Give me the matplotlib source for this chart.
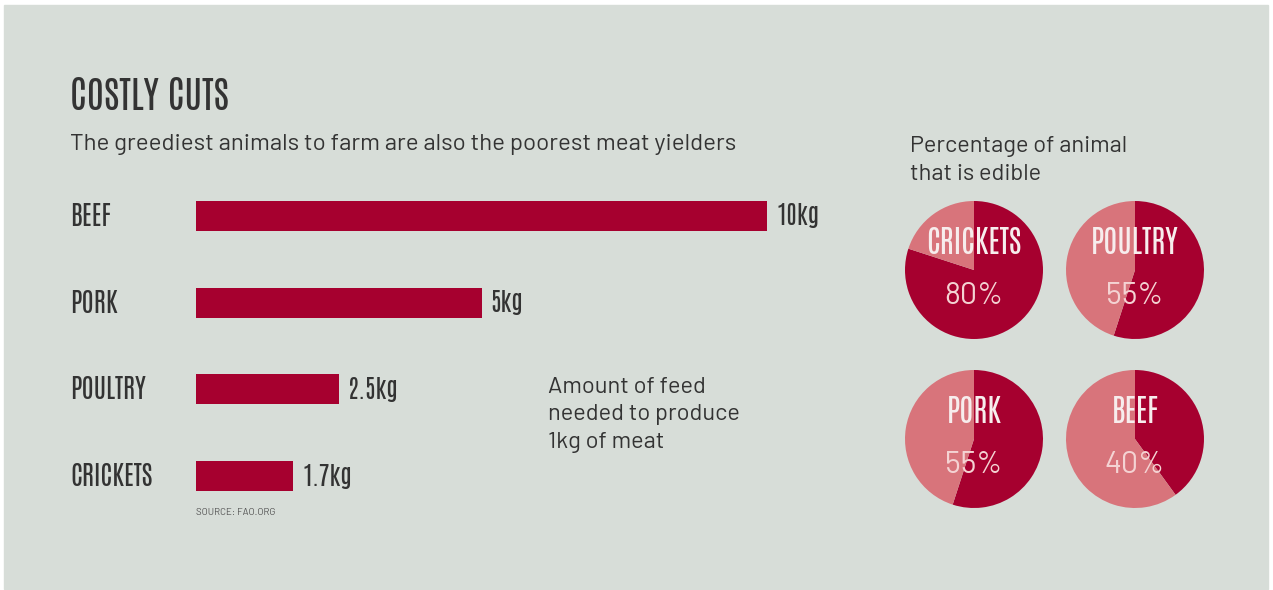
import matplotlib
matplotlib.use("Agg")
import matplotlib.pyplot as plt
from matplotlib.patches import Rectangle

# ---- data ----
animals = ["BEEF", "PORK", "POULTRY", "CRICKETS"]
feed_kg = [10, 5, 2.5, 1.7]
feed_labels = ["10kg", "5kg", "2.5kg", "1.7kg"]
pie_animals = ["CRICKETS", "POULTRY", "PORK", "BEEF"]
edible_pct = [80, 55, 55, 40]

BG, DARK, LIGHT, INK = "#d7ddd8", "#a6002f", "#d8747b", "#333333"
TALL = ["Antonio", "Big Shoulders Text", "DejaVu Sans"]
DIN = ["Barlow", "DejaVu Sans"]
W, H = 1273, 590

fig = plt.figure(figsize=(W / 100, H / 100), dpi=100, facecolor="white")
bg = fig.add_axes([0, 0, 1, 1])
bg.set_xlim(0, W); bg.set_ylim(H, 0); bg.axis("off")
bg.add_patch(Rectangle((4, 5), 1264, 584, color=BG, zorder=0))

def px(x, y, w, h):
    return [x / W, 1 - (y + h) / H, w / W, h / H]

# titles (multi-line blocks: baseline = last line)
bg.text(70, 110, "COSTLY CUTS", family=TALL, fontsize=27, color=INK, va="baseline")
bg.text(70, 150, "The greediest animals to farm are also the poorest meat yielders",
        family=DIN, fontsize=17.3, color=INK, va="baseline")
bg.text(910, 180, "Percentage of animal\nthat is edible", family=DIN, fontsize=17,
        color=INK, va="baseline", linespacing=1.42)
bg.text(548, 448, "Amount of feed\nneeded to produce\n1kg of meat", family=DIN,
        fontsize=17, color=INK, va="baseline", linespacing=1.42)

# ---- bars ----
ax = fig.add_axes(px(196, 172.5, 571, 347))
ax.barh(range(len(animals)), feed_kg, height=0.345, color=DARK)
ax.set_xlim(0, 10); ax.set_ylim(3.5, -0.5); ax.axis("off")
for i, (name, v, lab) in enumerate(zip(animals, feed_kg, feed_labels)):
    ax.text(v + 0.16, i, lab, family=TALL, fontsize=18, color=INK, va="center", clip_on=False)
    bg.text(70, 216 + i * 86.7, name, family=TALL, fontsize=19, color=INK, va="center")
ax.text(0, 3.42, "SOURCE: FAO.ORG", family=DIN, fontsize=7, color="#555555",
        va="center", clip_on=False)

# ---- pies ----
centers = [(974, 270), (1135, 270), (974, 439), (1135, 439)]
R = 69
for (cx, cy), name, p in zip(centers, pie_animals, edible_pct):
    pa = fig.add_axes(px(cx - R, cy - R, 2 * R, 2 * R))
    pa.pie([p, 100 - p], colors=[DARK, LIGHT], startangle=90, counterclock=False,
           radius=1, wedgeprops=dict(linewidth=0))
    pa.set_xlim(-1, 1); pa.set_ylim(-1, 1); pa.axis("off")
    pa.text(0, 0.4, name, family=TALL, fontsize=22, color="#f7eded", ha="center", va="center")
    pa.text(0, -0.38, f"{p}%", family=DIN, fontsize=22, color="#f4d3d3", ha="center", va="center")

fig.savefig("out.png", dpi=100, facecolor="white")
